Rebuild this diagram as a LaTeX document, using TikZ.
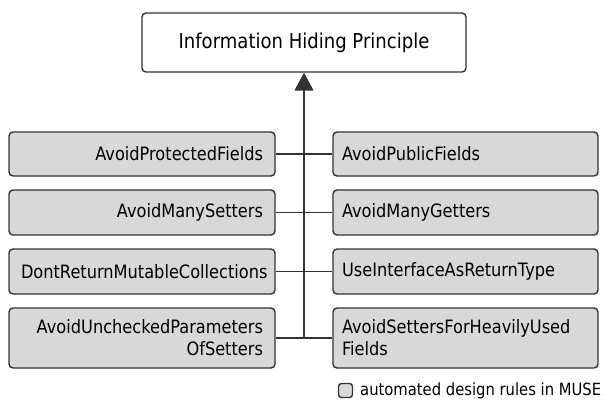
\documentclass[tikz,border=0pt]{standalone}
\usepackage{fontspec}
\setmainfont{DejaVu Sans}[FakeStretch=0.88]
\usetikzlibrary{arrows.meta}
\definecolor{edge}{HTML}{333333}
\definecolor{rulefill}{HTML}{D8D8D8}
\tikzset{
  rulebox/.style={draw=edge, line width=1.4pt, fill=rulefill, rounded corners=4pt,
    minimum height=#1, inner ysep=0pt, font=\fontsize{18.4}{22}\selectfont},
  leftrule/.style={rulebox=#1, minimum width=266pt, inner xsep=12pt, text width=242pt, align=right},
  rightrule/.style={rulebox=#1, minimum width=265pt, inner xsep=9pt, text width=247pt, align=left},
  conn/.style={draw=edge, line width=1.4pt},
}
\begin{document}
\begin{tikzpicture}[x=1pt,y=-1pt]
\useasboundingbox (0,0) rectangle (604,401);
\node[draw=edge, line width=1.4pt, rounded corners=4pt, minimum width=324pt, minimum height=59pt,
  font=\fontsize{20.5}{24}\selectfont] (top) at (304,42.5) {Information Hiding Principle};
\node[leftrule=44pt] (l1) at (142,154) {AvoidProtectedFields};
\node[leftrule=45pt] (l2) at (142,212.5) {AvoidManySetters};
\node[leftrule=45pt] (l3) at (142,271.5) {DontReturnMutableCollections};
\node[leftrule=60pt] (l4) at (142,338) {AvoidUncheckedParameters\\OfSetters};
\node[rightrule=44pt] (r1) at (465.5,154) {AvoidPublicFields};
\node[rightrule=45pt] (r2) at (465.5,212.5) {AvoidManyGetters};
\node[rightrule=45pt] (r3) at (465.5,271.5) {UseInterfaceAsReturnType};
\node[rightrule=60pt] (r4) at (465.5,338) {AvoidSettersForHeavilyUsed\\Fields};
\draw[conn] (l1.east) -- (r1.west);
\draw[conn] (l2.east) -- (r2.west);
\draw[conn] (l3.east) -- (r3.west);
\draw[conn] (l4.east) -- (r4.west);
\coordinate (j) at (top.south |- l4.east);
\draw[conn, -{Triangle[length=18pt,width=19pt]}] (j) -- (top.south);
\node[draw=edge, line width=1.4pt, fill=rulefill, rounded corners=3pt, minimum width=14pt,
  minimum height=14pt, inner sep=0pt] (key) at (345.5,390.5) {};
\node[anchor=west, inner sep=0pt, font=\fontsize{16.8}{20}\selectfont] (keytext) at (360,390.5)
  {automated design rules in MUSE};
\end{tikzpicture}
\end{document}
